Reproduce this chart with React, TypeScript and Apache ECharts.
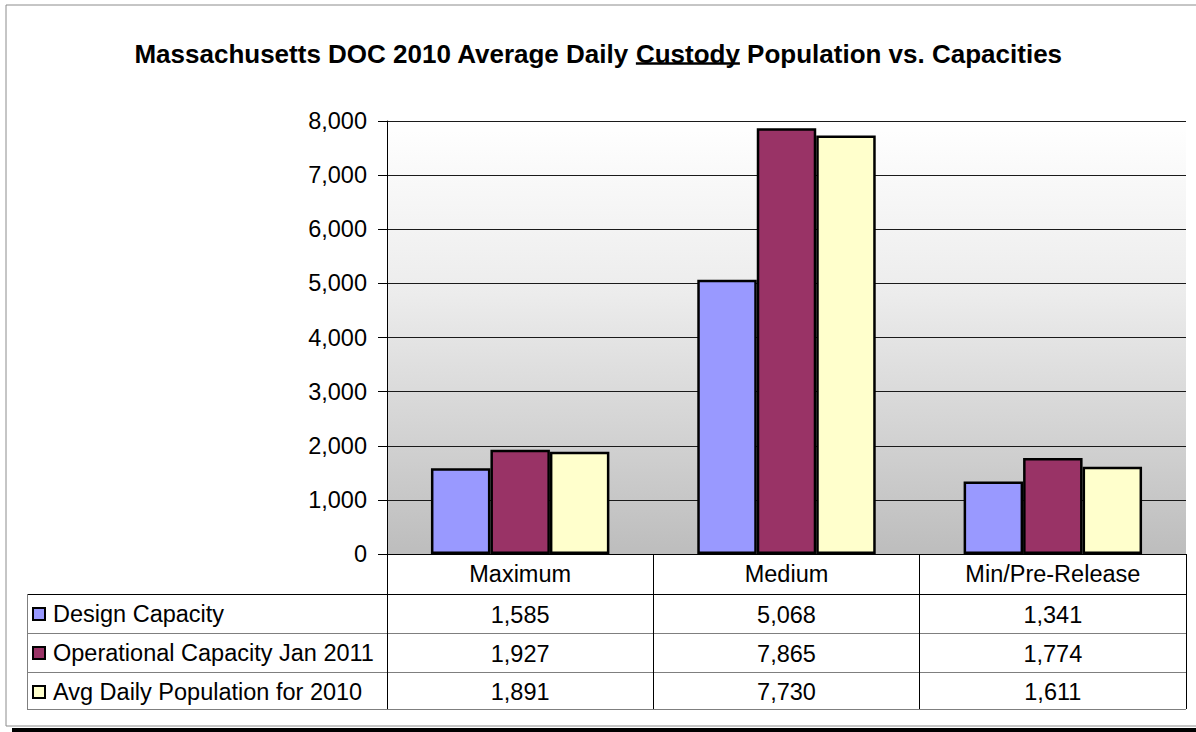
import React, { useEffect, useRef } from "react";
import * as echarts from "echarts";

const titlePrefix = "Massachusetts DOC 2010 Average Daily ";
const titleUnderlined = "Custody";
const titleSuffix = " Population vs. Capacities";

const categories = ["Maximum", "Medium", "Min/Pre-Release"];
const seriesNames = [
  "Design Capacity",
  "Operational Capacity Jan 2011",
  "Avg Daily Population for 2010",
];
const designCapacity = [1585, 5068, 1341];
const operationalCapacity = [1927, 7865, 1774];
const avgDailyPopulation = [1891, 7730, 1611];
const seriesColors = ["#9999FF", "#993366", "#FFFFCC"];

const yMin = 0;
const yMax = 8000;
const yInterval = 1000;

const FONT = 'Arial, "Liberation Sans", sans-serif';
const FS = 23.5;

const fmt = (v: number) => v.toLocaleString("en-US");

export default function App() {
  const ref = useRef<HTMLDivElement>(null);

  useEffect(() => {
    if (!ref.current) return;
    const chart = echarts.init(ref.current, null, { renderer: "svg" });
    const allValues = [designCapacity, operationalCapacity, avgDailyPopulation];

    const gridLeft = 387;
    const gridRight = 1186;
    const gridTop = 121;
    const gridBottom = 554;
    const tableLeft = 27;
    const rowLines = [594, 633, 672, 709];

    chart.setOption({
      animation: false,
      backgroundColor: "#ffffff",
      title: {
        text:
          "{b|" + titlePrefix + "}{b|" + titleUnderlined + "}{b|" + titleSuffix + "}",
        left: "center",
        top: 36,
        textStyle: {
          rich: {
            b: { fontSize: 26, fontWeight: "bold", fontFamily: FONT, color: "#000" },
          },
        },
      },
      legend: {
        data: seriesNames,
        orient: "vertical",
        left: 32,
        top: 602,
        padding: 0,
        itemWidth: 12,
        itemHeight: 12,
        itemGap: 15,
        icon: "rect",
        selectedMode: false,
        itemStyle: { borderColor: "#000", borderWidth: 2 },
        textStyle: {
          fontSize: FS,
          lineHeight: 24,
          fontFamily: FONT,
          color: "#000",
          padding: [0, 0, 0, 3],
        },
      },
      grid: {
        left: gridLeft,
        right: 1196 - gridRight,
        top: gridTop,
        bottom: 732 - gridBottom,
        show: true,
        borderWidth: 0,
        backgroundColor: new echarts.graphic.LinearGradient(0, 0, 0, 1, [
          { offset: 0, color: "#ffffff" },
          { offset: 0.4, color: "#ececec" },
          { offset: 1, color: "#bdbdbd" },
        ]),
      },
      xAxis: {
        type: "category",
        data: categories,
        axisLine: { show: true, lineStyle: { color: "#000", width: 1 } },
        axisTick: { show: true, length: 155, lineStyle: { color: "#000", width: 1 } },
        axisLabel: { fontSize: FS, fontFamily: FONT, color: "#000", margin: 8 },
        splitLine: { show: false },
      },
      yAxis: {
        type: "value",
        min: yMin,
        max: yMax,
        interval: yInterval,
        axisLine: { show: true, lineStyle: { color: "#000", width: 1 } },
        axisTick: { show: true, length: 9, lineStyle: { color: "#000" } },
        axisLabel: {
          fontSize: FS,
          fontFamily: FONT,
          color: "#000",
          margin: 20,
          formatter: (v: number) => fmt(v),
        },
        splitLine: { show: true, lineStyle: { color: "#1a1a1a", width: 1 } },
      },
      series: seriesNames.map((name, i) => ({
        name,
        type: "bar",
        data: allValues[i],
        barGap: "0%",
        barCategoryGap: "33%",
        itemStyle: { color: seriesColors[i], borderColor: "#000", borderWidth: 2.5 },
      })),
    });

    // measure title parts for the underline
    const ctx = document.createElement("canvas").getContext("2d")!;
    ctx.font = "bold 26px " + FONT;
    const wPre = ctx.measureText(titlePrefix).width;
    const wU = ctx.measureText(titleUnderlined).width;
    const wSuf = ctx.measureText(titleSuffix).width;
    const total = wPre + wU + wSuf;
    const tStart = 1196 / 2 - total / 2;

    const graphics: any[] = [];
    graphics.push({
      type: "rect",
      shape: { x: 6, y: 5, width: 1250, height: 721 },
      style: { fill: "none", stroke: "#8c8c8c", lineWidth: 1 },
      silent: true,
    });
    graphics.push({
      type: "rect",
      shape: { x: 12, y: 728, width: 1200, height: 5 },
      style: { fill: "#000" },
      silent: true,
    });
    graphics.push({
      type: "line",
      shape: { x1: tStart + wPre, y1: 63.5, x2: tStart + wPre + wU, y2: 63.5 },
      style: { stroke: "#000", lineWidth: 2.5 },
      silent: true,
    });
    rowLines.forEach((y, idx) => {
      graphics.push({
        type: "line",
        shape: { x1: tableLeft, y1: y + 0.5, x2: gridRight, y2: y + 0.5 },
        style: { stroke: idx === 0 ? "#000" : "#7f7f7f", lineWidth: 1 },
        silent: true,
      });
    });
    graphics.push({
      type: "line",
      shape: { x1: tableLeft + 0.5, y1: rowLines[0], x2: tableLeft + 0.5, y2: rowLines[3] },
      style: { stroke: "#7f7f7f", lineWidth: 1 },
      silent: true,
    });
    allValues.forEach((vals, r) => {
      const yc = (rowLines[r] + rowLines[r + 1]) / 2 + 1;
      vals.forEach((v, c) => {
        const x = chart.convertToPixel({ xAxisIndex: 0 }, c) as number;
        graphics.push({
          type: "text",
          x,
          y: yc,
          style: {
            text: fmt(v),
            fontSize: FS,
            fontFamily: FONT,
            fill: "#000",
            align: "center",
            verticalAlign: "middle",
          },
          silent: true,
        });
      });
    });

    chart.setOption({ graphic: graphics });

    return () => chart.dispose();
  }, []);

  return (
    <div
      ref={ref}
      style={{ position: "fixed", left: 0, top: 0, width: 1196, height: 732 }}
    />
  );
}
